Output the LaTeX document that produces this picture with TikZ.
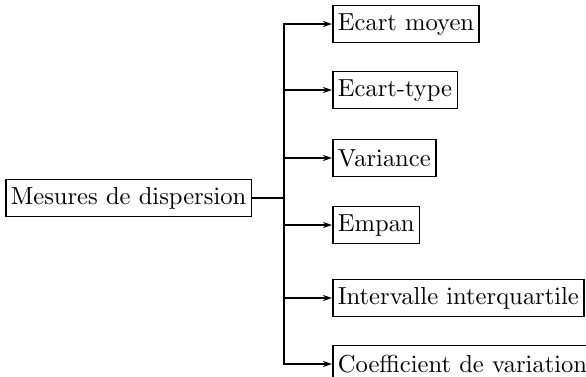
\documentclass[tikz,border=0pt]{standalone}
\usetikzlibrary{arrows.meta}
\font\wf=cmr10 at 24.6pt
\begin{document}
\begin{tikzpicture}[x=1pt,y=1pt,
  box/.style={draw,line width=1.6pt,inner xsep=5pt,minimum height=37pt,anchor=west,font=\wf},
  conn/.style={line width=1.5pt},
  arr/.style={conn,-{Stealth[length=9pt,width=6pt]}}]
\useasboundingbox (0,0) rectangle (586,-376);
\node[box] (m) at (5,-198) {Mesures de dispersion};
\node[box] (b1) at (332,-24) {Ecart moyen};
\node[box] (b2) at (332,-90) {Ecart-type};
\node[box] (b3) at (332,-158) {Variance};
\node[box] (b4) at (332,-225) {Empan};
\node[box] (b5) at (332,-298) {Intervalle interquartile};
\node[box] (b6) at (332,-364) {Coefficient de variation};
\coordinate (sp) at (284,-198);
\draw[conn] (m.east) -- (sp);
\foreach \n in {b1,b2,b3,b4,b5,b6} \draw[arr] (sp) |- (\n.west);
\end{tikzpicture}
\end{document}
